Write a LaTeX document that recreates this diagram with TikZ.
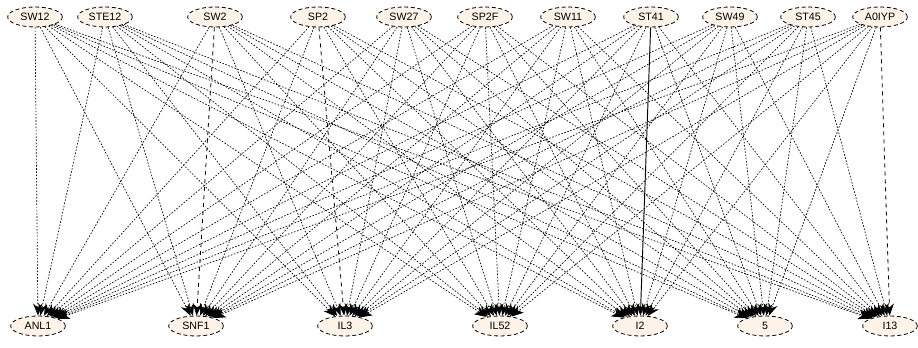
\documentclass[tikz,border=0pt]{standalone}
\usepackage{fontspec}
\setmainfont{Liberation Sans}
\usetikzlibrary{shapes.geometric,arrows.meta}
\definecolor{nodefill}{HTML}{FDF3E8}
\begin{document}
\begin{tikzpicture}[x=0.75pt,y=-0.75pt,
  gnode/.style={ellipse,draw=black,densely dashed,line width=0.6pt,fill=nodefill,
     minimum width=41pt,minimum height=15pt,inner sep=0pt,
     font=\fontsize{8}{9}\selectfont},
  edge/.style={dash pattern=on 1.2pt off 1.2pt,line width=0.5pt,-{Stealth[length=9pt,width=7pt]}},
  dedge/.style={dashed,line width=0.6pt,-{Stealth[length=9pt,width=7pt]}},
  sedge/.style={solid,line width=0.7pt,-{Stealth[length=9pt,width=7pt]}}]
\useasboundingbox (0,0) rectangle (918,348);
% top row
\node[gnode] (t1) at (35,17) {SW12};
\node[gnode] (t2) at (105,17) {STE12};
\node[gnode] (t3) at (215,17) {SW2};
\node[gnode] (t4) at (318,17) {SP2};
\node[gnode] (t5) at (404,17) {SW27};
\node[gnode] (t6) at (485,17) {SP2F};
\node[gnode] (t7) at (568,17) {SW11};
\node[gnode] (t8) at (651,17) {ST41};
\node[gnode] (t9) at (730,17) {SW49};
\node[gnode] (t10) at (808,17) {ST45};
\node[gnode] (t11) at (880,17) {A0IYP};
% bottom row
\node[gnode] (b1) at (38,326) {ANL1};
\node[gnode] (b2) at (196,326) {SNF1};
\node[gnode] (b3) at (345,326) {IL3};
\node[gnode] (b4) at (500,326) {IL52};
\node[gnode] (b5) at (640,326) {I2};
\node[gnode] (b6) at (765,326) {5};
\node[gnode] (b7) at (890,326) {I13};
% edges
\foreach \t in {1,...,11}{
  \foreach \b in {1,...,7}{
    \pgfmathtruncatemacro{\skip}{(\t==3 && \b==2) || (\t==4 && \b==3) || (\t==8 && \b==5) || (\t==11 && \b==7)}
    \ifnum\skip=0
      \draw[edge] (t\t) -- (b\b);
    \fi
  }
}
\draw[dedge] (t3) -- (b2);
\draw[dedge] (t4) -- (b3);
\draw[sedge] (t8) -- (b5);
\draw[dedge] (t11) -- (b7);
\end{tikzpicture}
\end{document}
